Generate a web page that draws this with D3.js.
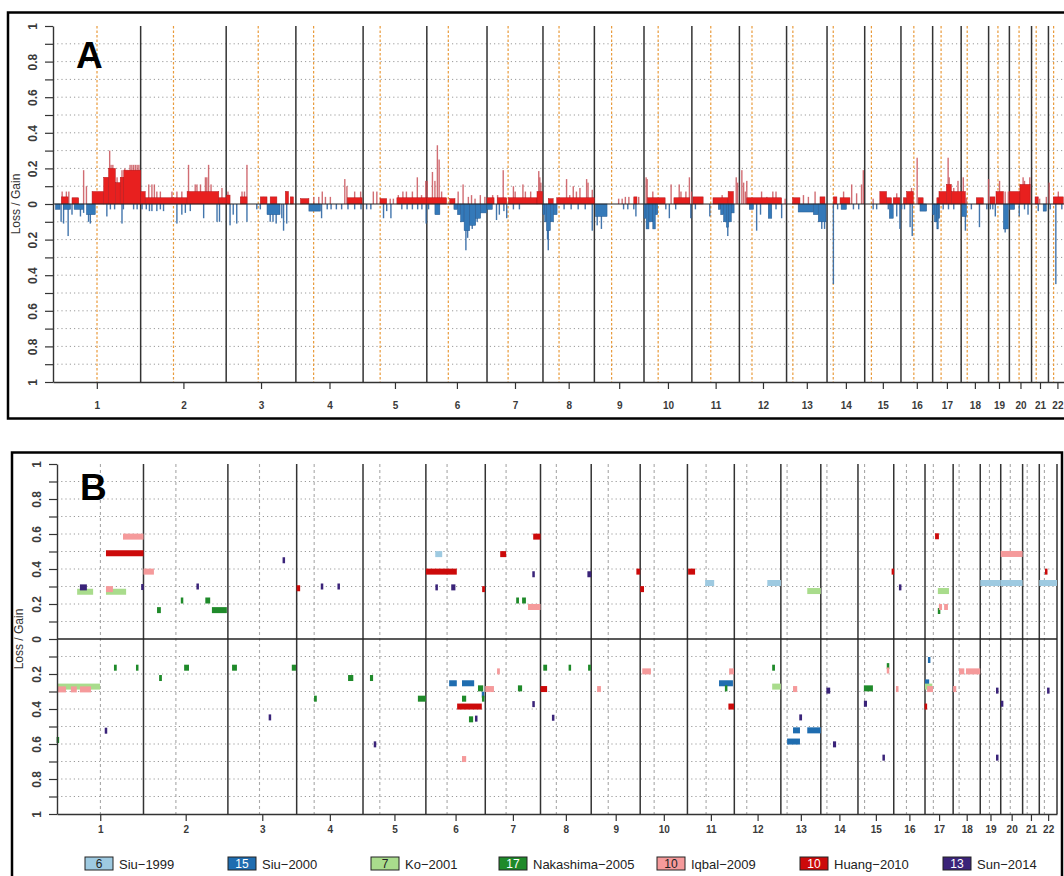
<!DOCTYPE html>
<html>
<head>
<meta charset="utf-8">
<script src="https://cdn.jsdelivr.net/npm/d3@7"></script>
<style>
  body { margin: 0; background: #fff; }
  svg { display: block; }
  text { font-family: "Liberation Sans", Arial, Helvetica, sans-serif; }
</style>
</head>
<body>
<svg id="chart" width="1064" height="876"></svg>
<script>
/* ── chromosomes (hg19, Mb) ─────────────────────── */
const CHROM = ["1","2","3","4","5","6","7","8","9","10","11","12","13","14","15","16","17","18","19","20","21","22"];
const CHROM_LEN = [249,243,198,191,181,171,159,146,141,136,135,134,115,107,103,90,81,78,59,63,48,51];
const CENTRO = [125,93.3,91,50.4,48.4,61,59.9,45.6,49,40.2,53.7,35.8,17.9,17.6,19,36.6,24,17.2,26.5,27.5,13.2,14.7];

const Y_TICKS = d3.range(-10, 11).map(d => d / 10);
const GRID_VALUES = Y_TICKS.filter(d => Math.abs(d) > 0.05 && Math.abs(d) < 0.95);

/* ── panel A: frequency of gain / loss [chr, startMb, endMb, freq] ── */
const gainBlocks = [
  [1,24,43,0.04],[1,54,73,0.035],[1,111,144,0.07],[1,144,158,0.15],[1,158,177,0.2],[1,177,191,0.12],[1,191,201,0.15],[1,201,249,0.19],
  [2,0,13,0.07],[2,13,132,0.035],[2,132,222,0.07],[2,222,243,0.035],
  [3,0,11,0.05],[3,40,59,0.04],[3,97,116,0.04],[3,125,144,0.04],[3,168,177,0.07],[3,182,191,0.04],
  [4,13,37,0.03],[4,146,188,0.035],
  [5,48,67,0.03],[5,96,181,0.035],
  [6,0,56,0.035],[6,65,80,0.03],
  [7,0,20,0.035],[7,30,56,0.035],[7,61,142,0.035],[7,142,158,0.07],
  [8,15,29,0.03],[8,39,146,0.035],
  [9,112,121,0.04],
  [10,10,60,0.035],[10,85,130,0.035],
  [11,3,32,0.04],[11,60,103,0.035],[11,103,118,0.07],
  [12,21,120,0.035],
  [13,17,38,0.035],[13,95,109,0.04],
  [14,18,28,0.04],[14,37,65,0.035],
  [15,43,62,0.07],[15,62,76,0.035],[15,81,100,0.035],
  [16,7,16,0.035],[16,16,35,0.07],[16,49,63,0.035],
  [17,12,18,0.035],[17,18,39,0.07],[17,39,53,0.11],[17,53,81,0.07],
  [18,0,12,0.07],[18,43,63,0.035],
  [19,4,18,0.04],[19,21,42,0.07],
  [20,0,30,0.07],[20,30,59,0.11],
  [21,10,19,0.04],
  [22,14,42,0.04]
];
const gainSpikes = [
  [1,26,0.07],[1,38,0.07],[1,45,0.07],[1,87,0.19],[1,95,0.1],[1,161,0.3],[1,165,0.22],[1,170,0.22],[1,182,0.15],[1,196,0.19],[1,204,0.2],
  [1,219,0.22],[1,224,0.22],[1,229,0.22],[1,234,0.22],[1,239,0.22],[1,244,0.22],
  [2,23,0.11],[2,32,0.11],[2,39,0.11],[2,46,0.07],[2,56,0.07],[2,89,0.07],[2,103,0.07],[2,117,0.07],[2,136,0.22],[2,155,0.11],[2,160,0.11],
  [2,170,0.11],[2,184,0.15],[2,188,0.15],[2,193,0.22],[2,200,0.11],[2,231,0.09],
  [3,5,0.07],[3,45,0.07],[3,52,0.07],[3,59,0.22],[3,106,0.04],[3,172,0.07],
  [4,51,0.04],[4,65,0.04],[4,75,0.07],[4,84,0.04],[4,98,0.04],[4,139,0.14],[4,145,0.1],[4,167,0.07],[4,184,0.07],
  [5,29,0.07],[5,39,0.07],[5,77,0.03],[5,86,0.03],[5,100,0.05],[5,113,0.07],[5,123,0.07],[5,140,0.07],[5,154,0.15],[5,166,0.05],[5,178,0.13],
  [6,1,0.13],[6,16,0.18],[6,23,0.13],[6,30,0.33],[6,35,0.25],[6,42,0.07],[6,89,0.07],[6,103,0.11],[6,118,0.04],[6,127,0.05],[6,137,0.03],[6,152,0.05],[6,165,0.04],
  [7,16,0.05],[7,30,0.05],[7,46,0.19],[7,75,0.1],[7,80,0.07],[7,102,0.11],[7,109,0.07],[7,124,0.07],[7,147,0.185],[7,150,0.15],[7,153,0.12],
  [8,67,0.14],[8,76,0.05],[8,86,0.1],[8,95,0.07],[8,105,0.09],[8,124,0.14],[8,128,0.12],[8,140,0.08],
  [9,69,0.03],[9,79,0.03],[9,88,0.04],[9,98,0.04],[9,126,0.04],
  [10,6,0.15],[10,9,0.14],[10,25,0.07],[10,77,0.11],[10,100,0.11],[10,105,0.07],[10,119,0.07],[10,129,0.15],[10,135,0.07],
  [11,86,0.05],[11,126,0.15],[11,130,0.12],
  [12,7,0.19],[12,12,0.12],[12,17,0.07],[12,21,0.13],[12,63,0.07],[12,78,0.04],[12,95,0.07],[12,104,0.07],[12,130,0.03],
  [13,48,0.05],[13,62,0.04],[13,81,0.07],
  [14,47,0.07],[14,70,0.11],[14,84,0.06],[14,98,0.11],[14,103,0.19],
  [15,24,0.03],[15,91,0.06],
  [16,30,0.09],[16,46,0.26],
  [17,44,0.26],[17,47,0.15],[17,60,0.09],[17,72,0.13],
  [18,6,0.15],[18,15,0.035],[18,78,0.14],
  [19,31,0.13],[19,47,0.07],[19,56,0.07],
  [20,39,0.15],[20,43,0.13],[20,58,0.15],
  [21,23,0.03],[21,42,0.04],
  [22,2,0.12],[22,28,0.07]
];
const lossBlocks = [
  [1,7,20,0.03],[1,30,50,0.03],[1,60,87,0.03],[1,95,120,0.06],
  [3,116,153,0.06],
  [4,37,70,0.04],
  [6,23,37,0.06],[6,77,87,0.03],[6,87,96,0.06],[6,96,106,0.1],[6,106,122,0.15],[6,122,139,0.12],[6,139,153,0.08],[6,153,170,0.05],
  [7,0,15,0.03],
  [8,0,5,0.06],[8,5,10,0.1],[8,10,21,0.15],[8,21,30,0.1],[8,30,40,0.06],
  [9,3,36,0.07],
  [10,0,6,0.08],[10,6,14,0.14],[10,14,25,0.1],[10,25,32,0.14],[10,32,39,0.06],
  [11,75,82,0.03],[11,82,90,0.06],[11,90,98,0.1],[11,98,104,0.13],[11,104,112,0.1],[11,112,120,0.05],
  [12,28,40,0.03],[12,82,92,0.08],
  [13,33,76,0.045],[13,76,90,0.06],[13,90,112,0.1],
  [14,40,55,0.03],
  [15,70,81,0.08],
  [16,54,73,0.04],
  [17,0,5,0.06],[17,5,12,0.1],[17,12,16,0.14],[17,16,20,0.08],
  [18,2,15,0.07],
  [19,42,56,0.14],
  [20,1,15,0.03],
  [21,33,42,0.04]
];
const lossSpikes = [
  [1,23,0.1],[1,30,0.11],[1,43,0.18],[1,54,0.06],[1,78,0.07],[1,87,0.05],[1,101,0.1],[1,106,0.11],[1,153,0.07],[1,163,0.03],[1,175,0.03],
  [1,196,0.11],[1,200,0.03],[1,229,0.03],[1,239,0.03],
  [2,4,0.03],[2,16,0.03],[2,25,0.04],[2,32,0.04],[2,46,0.04],[2,56,0.03],[2,65,0.04],[2,103,0.11],[2,117,0.06],[2,127,0.05],[2,141,0.04],
  [2,179,0.08],[2,217,0.1],[2,224,0.1],
  [3,11,0.12],[3,20,0.06],[3,30,0.11],[3,59,0.1],[3,87,0.03],[3,97,0.03],[3,125,0.1],[3,133,0.1],[3,142,0.11],[3,158,0.08],[3,163,0.15],[3,172,0.11],
  [4,73,0.08],[4,89,0.03],[4,100,0.03],[4,115,0.03],[4,130,0.03],[4,148,0.03],[4,167,0.03],[4,185,0.03],
  [5,10,0.03],[5,22,0.03],[5,58,0.08],[5,67,0.04],[5,79,0.08],[5,110,0.03],[5,125,0.03],[5,140,0.03],[5,155,0.03],[5,167,0.03],[5,179,0.11],
  [6,5,0.03],[6,111,0.26],[6,116,0.19],[6,129,0.14],[6,143,0.1],
  [7,27,0.09],[7,35,0.06],[7,48,0.04],[7,56,0.08],[7,75,0.03],[7,92,0.03],
  [8,13,0.2],[8,15,0.26],[8,60,0.03],[8,80,0.03],[8,100,0.03],[8,120,0.03],[8,140,0.15],
  [9,8,0.12],[9,20,0.14],[9,83,0.03],[9,95,0.03],[9,112,0.03],[9,118,0.07],
  [10,62,0.03],[10,72,0.08],[10,90,0.03],[10,133,0.08],
  [11,10,0.03],[11,51,0.07],[11,102,0.18],
  [12,49,0.15],[12,60,0.06],[12,104,0.03],[12,120,0.08],
  [13,100,0.14],[13,108,0.14],
  [14,18,0.45],[14,30,0.03],[14,75,0.03],[14,90,0.03],
  [15,24,0.03],[15,34,0.03],[15,67,0.03],[15,91,0.07],[15,100,0.14],
  [16,2,0.03],[16,10,0.03],[16,26,0.13],[16,32,0.18],
  [17,30,0.03],[17,45,0.03],[17,60,0.03],
  [18,12,0.15],[18,29,0.03],[18,52,0.13],[18,73,0.03],
  [19,5,0.03],[19,12,0.03],[19,19,0.07],[19,47,0.16],
  [20,28,0.07],[20,43,0.03],[20,53,0.06],
  [21,19,0.04],
  [22,5,0.03],[22,21,0.45],[22,38,0.03]
];

/* ── panel B: published regions [chr, startMb, endMb, freq (+gain / -loss)] ── */
const siu1999 = [[6,27,47,0.485],[11,51,77,0.32],[12,95,134,0.32],[19,0,59,0.32],[20,0,63,0.32],[22,0,51,0.32]];
const siu2000 = [[6,67,89,-0.253],[6,104,139,-0.253],[6,161,168,-0.318],[11,91,131,-0.253],[13,35,55,-0.522],[13,76,115,-0.522],
  [13,18,55,-0.586],[17,9,15,-0.12],[17,0,12,-0.248]];
const ko2001 = [[1,58,104,0.27],[1,141,199,0.27],[13,76,115,0.274],[17,37,69,0.274],[1,0,124,-0.272],[12,109,134,-0.272],[17,0,21,-0.272]];
const nakashima2005 = [[2,39,50,0.165],[2,108,114,0.22],[2,178,192,0.22],[2,197,240,0.165],[7,89,97,0.22],[7,106,117,0.22],[17,37,44,0.16],
  [1,0,5,-0.577],[1,164,172,-0.164],[1,228,234,-0.164],[2,45,53,-0.223],[2,117,131,-0.164],[3,12,26,-0.164],[3,184,196,-0.164],
  [4,50,58,-0.341],[4,148,163,-0.223],[5,20,29,-0.223],[5,158,181,-0.341],[6,150,165,-0.282],[6,104,116,-0.341],[6,162,168,-0.341],
  [6,124,136,-0.459],[7,94,106,-0.282],[8,8,19,-0.164],[8,83,86,-0.164],[8,137,145,-0.164],[11,109,114,-0.282],[12,109,117,-0.164],
  [15,17,43,-0.282],[15,84,89,-0.155]];
const iqbal2009 = [[1,141,161,0.285],[1,190,249,0.585],[2,0,30,0.385],[7,123,159,0.183],[17,40,49,0.183],[17,55,66,0.183],[20,0,63,0.486],
  [1,0,26,-0.288],[1,40,57,-0.288],[1,66,98,-0.288],[6,104,116,-0.686],[7,0,25,-0.286],[7,34,42,-0.185],[9,17,28,-0.286],[10,6,31,-0.185],
  [11,120,134,-0.185],[13,35,47,-0.286],[15,84,89,-0.18],[16,7,13,-0.286],[17,6,23,-0.286],[18,0,9,-0.286],[18,17,32,-0.185],[18,37,78,-0.185]];
const huang2010 = [[1,141,249,0.49],[4,0,10,0.29],[6,0,89,0.385],[6,162,170,0.285],[7,43,60,0.485],[7,138,159,0.585],[9,130,141,0.385],
  [10,0,11,0.285],[11,2,22,0.385],[15,98,103,0.385],[17,29,40,0.587],[22,17,23,0.385],
  [6,90,161,-0.386],[8,0,19,-0.286],[11,118,134,-0.386],[17,0,5,-0.386]];
const sun2014 = [[1,66,86,0.295],[1,243,249,0.297],[2,154,158,0.3],[3,158,164,0.45],[4,70,76,0.3],[4,119,123,0.3],[6,30,32,0.295],[6,73,85,0.295],
  [7,136,142,0.37],[8,135,146,0.37],[16,16,21,0.295],
  [1,138,144,-0.524],[3,118,124,-0.448],[5,32,37,-0.602],[6,142,148,-0.455],[7,137,141,-0.372],[8,34,39,-0.45],[13,53,61,-0.448],
  [14,16,27,-0.295],[14,35,44,-0.602],[15,17,26,-0.37],[15,72,76,-0.678],[19,46,52,-0.295],[19,46,52,-0.678],[20,1,7,-0.37],[22,23,29,-0.295]];

const STUDY_NAMES = ["Siu\u22121999","Siu\u22122000","Ko\u22122001","Nakashima\u22122005","Iqbal\u22122009","Huang\u22122010","Sun\u22122014"];
const STUDY_COUNTS = [6, 15, 7, 17, 10, 10, 13];
const STUDY_DATA = [siu1999, siu2000, ko2001, nakashima2005, iqbal2009, huang2010, sun2014];
const STUDY_COLORS = ["#9ecae1","#1f6db0","#a9dc8c","#1f8a2a","#f59a9b","#cc0a0a","#3a2379"];
const STUDY_TEXT = ["#222","#fff","#222","#fff","#222","#fff","#fff"];
const LEGEND_X = [85, 228, 371, 499, 657, 800, 943];

/* ── layout ─────────────────────────────────────── */
const cumStart = [0, ...d3.cumsum(CHROM_LEN)];
const GENOME = cumStart[cumStart.length - 1];
const gpos = (chr, mb) => cumStart[chr - 1] + mb;

const svg = d3.select("#chart");
svg.append("rect").attr("width", 1064).attr("height", 876).attr("fill", "#fff");

function drawFrame(P) {
  const g = svg.append("g");
  const { x, y } = P;

  // dotted horizontal grid
  g.selectAll(".grid").data(GRID_VALUES).join("line")
    .attr("x1", P.left).attr("x2", P.right)
    .attr("y1", d => y(d)).attr("y2", d => y(d))
    .attr("stroke", "#9a9a9a").attr("stroke-width", 1)
    .attr("stroke-dasharray", "1.2,3");

  // centromeres
  g.selectAll(".cen").data(CENTRO).join("line")
    .attr("x1", (d, i) => x(gpos(i + 1, d))).attr("x2", (d, i) => x(gpos(i + 1, d)))
    .attr("y1", y(1)).attr("y2", y(-1))
    .attr("stroke", P.cenColor).attr("stroke-width", P.cenWidth)
    .attr("stroke-dasharray", P.cenDash);

  // chromosome boundaries
  g.selectAll(".chr").data(cumStart.slice(1)).join("line")
    .attr("x1", d => x(d)).attr("x2", d => x(d))
    .attr("y1", y(1)).attr("y2", y(-1))
    .attr("stroke", "#333").attr("stroke-width", 1.5);
  return g;
}

function drawAxes(P) {
  const { x, y } = P;
  const yAxis = svg.append("g")
    .attr("transform", `translate(${P.left},0)`)
    .call(d3.axisLeft(y).tickValues(Y_TICKS).tickSize(8).tickSizeOuter(0)
      .tickFormat(d => (Math.round(d * 10) % 2 === 0 ? d3.format("")(Math.abs(+d.toFixed(1))) : "")));
  yAxis.select(".domain").attr("stroke", "#333").attr("stroke-width", 1.4);
  yAxis.selectAll(".tick line").attr("stroke", "#333").attr("stroke-width", 1.2);
  yAxis.selectAll(".tick text")
    .attr("transform", "rotate(-90)")
    .attr("x", 0).attr("y", -16).attr("dy", 0)
    .attr("text-anchor", "middle")
    .attr("font-size", 12).attr("font-weight", "bold").attr("fill", "#3a3a3a");

  const mids = CHROM_LEN.map((l, i) => cumStart[i] + l / 2);
  const xAxis = svg.append("g")
    .attr("transform", `translate(0,${y(-1)})`)
    .call(d3.axisBottom(x).tickValues(mids).tickSize(7).tickSizeOuter(0)
      .tickFormat((d, i) => CHROM[i]));
  xAxis.select(".domain").attr("stroke", "#333").attr("stroke-width", 1.4);
  xAxis.selectAll(".tick line").attr("stroke", "#333").attr("stroke-width", 1.2);
  xAxis.selectAll(".tick text")
    .attr("y", P.labelY).attr("dy", 0)
    .attr("font-size", 10).attr("font-weight", "bold").attr("fill", "#3a3a3a");

  svg.append("text")
    .attr("transform", `translate(${P.titleX},${y(0)}) rotate(-90)`)
    .attr("text-anchor", "middle")
    .attr("font-size", 12).attr("fill", "#333")
    .text("Loss / Gain");

  svg.append("text")
    .attr("x", P.letterX).attr("y", P.letterY)
    .attr("font-size", 37).attr("font-weight", "bold").attr("fill", "#000")
    .text(P.letter);
}

/* ── PANEL A ─────────────────────────────────────── */
const PA = {
  x: d3.scaleLinear().domain([0, GENOME]).range([53, 1066.4]),
  y: d3.scaleLinear().domain([-1, 1]).range([382, 26]),
  left: 53, right: 1066.4,
  cenColor: "#e99a3a", cenWidth: 1.2, cenDash: "2.5,2",
  labelY: 27, titleX: 20, letter: "A", letterX: 76, letterY: 68
};
svg.append("rect").attr("x", 8).attr("y", 12.5).attr("width", 1080).attr("height", 406)
  .attr("fill", "none").attr("stroke", "#000").attr("stroke-width", 2.5);
drawFrame(PA);

const gA = svg.append("g");
gA.selectAll(".gs").data(gainSpikes).join("rect")
  .attr("x", d => PA.x(gpos(d[0], d[1])) - 0.7).attr("width", 1.4)
  .attr("y", d => PA.y(d[2])).attr("height", d => PA.y(0) - PA.y(d[2]))
  .attr("fill", "#c9545a").attr("opacity", 0.85);
gA.selectAll(".gb").data(gainBlocks).join("rect")
  .attr("x", d => PA.x(gpos(d[0], d[1])))
  .attr("width", d => PA.x(gpos(d[0], d[2])) - PA.x(gpos(d[0], d[1])))
  .attr("y", d => PA.y(d[3])).attr("height", d => PA.y(0) - PA.y(d[3]))
  .attr("fill", "#e8201f").attr("stroke", "#b3161a").attr("stroke-width", 0.5);
gA.selectAll(".ls").data(lossSpikes).join("rect")
  .attr("x", d => PA.x(gpos(d[0], d[1])) - 0.7).attr("width", 1.4)
  .attr("y", PA.y(0)).attr("height", d => PA.y(-d[2]) - PA.y(0))
  .attr("fill", "#2d66a3").attr("opacity", 0.9);
gA.selectAll(".lb").data(lossBlocks).join("rect")
  .attr("x", d => PA.x(gpos(d[0], d[1])))
  .attr("width", d => PA.x(gpos(d[0], d[2])) - PA.x(gpos(d[0], d[1])))
  .attr("y", PA.y(0)).attr("height", d => PA.y(-d[3]) - PA.y(0))
  .attr("fill", "#3479b9").attr("stroke", "#24588f").attr("stroke-width", 0.5);
gA.append("line").attr("x1", PA.left).attr("x2", PA.right)
  .attr("y1", PA.y(0)).attr("y2", PA.y(0)).attr("stroke", "#222").attr("stroke-width", 1.2);
drawAxes(PA);

/* ── PANEL B ─────────────────────────────────────── */
const PB = {
  x: d3.scaleLinear().domain([0, GENOME]).range([57, 1057]),
  y: d3.scaleLinear().domain([-1, 1]).range([814, 464]),
  left: 57, right: 1057,
  cenColor: "#a8a8a8", cenWidth: 1.1, cenDash: "3,3",
  labelY: 19, titleX: 23, letter: "B", letterX: 80, letterY: 500
};
svg.append("rect").attr("x", 12).attr("y", 452.5).attr("width", 1050).attr("height", 440)
  .attr("fill", "none").attr("stroke", "#000").attr("stroke-width", 2.5);
drawFrame(PB);

const gB = svg.append("g");
STUDY_DATA.forEach((rows, k) => {
  gB.selectAll(`.s${k}`).data(rows).join("rect")
    .attr("x", d => {
      const x0 = PB.x(gpos(d[0], d[1])), x1 = PB.x(gpos(d[0], d[2]));
      return x1 - x0 < 2.5 ? (x0 + x1) / 2 - 1.25 : x0;
    })
    .attr("width", d => Math.max(2.5, PB.x(gpos(d[0], d[2])) - PB.x(gpos(d[0], d[1]))))
    .attr("y", d => PB.y(d[3]) - 3).attr("height", 6)
    .attr("fill", STUDY_COLORS[k]);
});
gB.append("line").attr("x1", PB.left).attr("x2", PB.right)
  .attr("y1", PB.y(0)).attr("y2", PB.y(0)).attr("stroke", "#222").attr("stroke-width", 1.3);
drawAxes(PB);

/* ── legend ──────────────────────────────────────── */
const leg = svg.append("g").attr("transform", "translate(0,857)");
STUDY_NAMES.forEach((name, k) => {
  const lx = LEGEND_X[k];
  leg.append("rect").attr("x", lx).attr("y", 0).attr("width", 28).attr("height", 13)
    .attr("fill", STUDY_COLORS[k]).attr("stroke", "#222").attr("stroke-width", 1);
  leg.append("text").attr("x", lx + 14).attr("y", 11).attr("text-anchor", "middle")
    .attr("font-size", 12).attr("fill", STUDY_TEXT[k]).text(STUDY_COUNTS[k]);
  leg.append("text").attr("x", lx + 34).attr("y", 11.5)
    .attr("font-size", 13).attr("fill", "#222").text(name);
});
</script>
</body>
</html>
